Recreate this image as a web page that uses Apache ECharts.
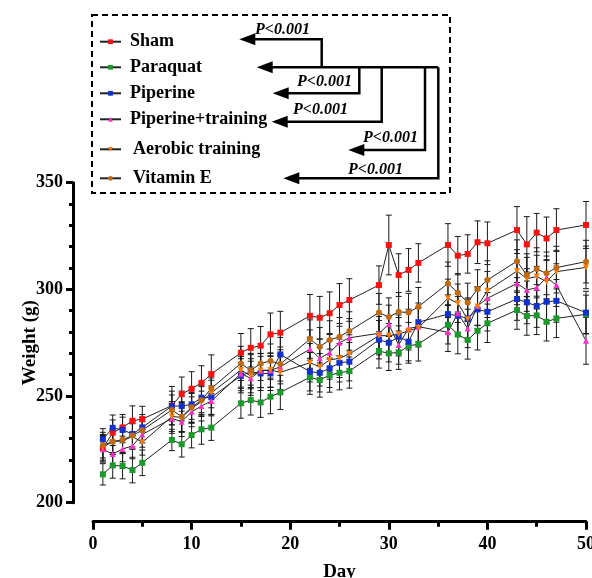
<!DOCTYPE html>
<html>
<head>
<meta charset="utf-8">
<script src="https://cdn.jsdelivr.net/npm/echarts@6/dist/echarts.min.js"></script>
<style>
html,body{margin:0;padding:0;background:#fff;overflow:hidden;}
#chart{width:592px;height:578px;}
</style>
</head>
<body>
<div id="chart"></div>
<script>
// ---- data ----
const days = [1,2,3,4,5,8,9,10,11,12,15,16,17,18,19,22,23,24,25,26,29,30,31,32,33,36,37,38,39,40,43,44,45,46,47,50];
const seriesNames = ['Sham','Paraquat','Piperine','Piperine+training','Aerobic training','Vitamin E'];
const sham = [225.5,232.8,235.3,238.4,239.2,245.5,250.9,253.4,256.2,260.3,270.3,272.6,273.6,278.9,279.7,287.6,286.7,288.8,292.7,295.0,302.0,320.8,306.7,309.1,312.4,320.8,315.8,316.6,322.1,321.6,327.8,321.1,326.6,323.9,327.8,330.2];
const paraquat = [213.3,217.5,217.2,215.3,218.7,229.4,227.4,231.7,234.4,235.2,246.6,248.1,247.0,249.7,251.7,258.8,257.5,259.8,260.9,261.7,271.1,270.0,270.5,273.4,274.4,283.4,278.8,276.3,280.6,284.1,290.3,287.5,287.8,284.8,286.4,288.3];
const piperine = [229.7,235.1,234.1,232.2,235.3,245.3,245.3,246.1,249.2,249.4,259.5,261.4,260.6,260.6,269.5,261.4,260.9,263.0,265.6,266.1,276.4,275.0,277.8,275.5,284.6,288.4,287.6,286.4,290.6,289.5,295.5,293.9,292.2,294.2,294.6,289.1];
const pipTraining = [225.0,222.8,225.2,226.6,232.0,239.5,238.0,242.6,245.3,247.7,260.5,258.3,261.9,262.0,263.7,272.0,267.7,270.3,275.0,277.3,279.4,283.6,273.9,281.7,282.5,279.9,288.8,281.7,292.2,295.8,302.8,299.7,300.8,305.6,302.0,275.9];
const aerobic = [226.0,228.6,229.0,231.0,228.3,240.4,240.0,244.2,247.4,251.5,262.2,259.5,262.0,262.2,261.1,265.6,263.7,266.9,267.7,269.7,278.3,278.3,279.0,280.6,282.0,295.8,293.5,286.0,292.0,299.4,308.6,305.0,306.0,303.6,308.3,310.3];
const vitaminE = [227.0,228.6,229.5,231.5,234.0,243.5,240.3,244.7,248.0,253.6,265.3,262.0,265.3,266.4,265.0,276.7,273.1,276.3,277.8,280.5,289.1,287.0,289.5,289.1,291.9,302.8,298.4,293.9,300.2,304.4,313.2,306.7,309.5,307.5,310.2,313.0];

const shamErr = [6,6,6,7,6,9,8,8,8,9,9,9,9,10,10,10,10,10,10,10,9,14,10,10,9,10,9,9,10,10,11,13,9,10,10,11];
const paraquatErr = [5,6,6,6,6,5,6,6,7,6,7,7,7,8,8,8,8,8,8,8,8,8,8,8,8,9,9,9,9,9,9,9,9,9,9,9];
const piperineErr = [5,6,6,6,6,7,7,7,7,8,8,8,8,8,8,9,9,9,9,9,9,9,9,9,9,9,9,9,9,9,10,10,10,10,10,10];
const pipTrainingErr = [6,6,6,6,6,7,7,7,7,7,8,8,8,8,8,9,9,9,9,9,9,9,9,9,9,9,9,9,9,9,10,10,10,10,10,11];
const aerobicErr = [6,6,6,6,6,7,7,7,7,7,8,8,8,8,8,9,9,9,9,9,9,9,9,9,9,9,9,10,9,9,10,10,10,10,10,10];
const vitaminEErr = [6,6,6,6,6,7,7,7,7,7,8,8,8,8,8,9,9,9,9,9,9,9,9,9,9,10,9,9,9,9,10,10,10,10,10,10];

const yTicks = [200,250,300,350];
const xTicks = [0,10,20,30,40,50];
const pLabel = 'P<0.001';

// ---- styles ----
const FONT = "'Liberation Serif','Times New Roman',serif";
const colors = ['#ff1010','#1a9a2a','#1030d0','#ff30c8','#ff7a00','#c06a10'];
const symbols = ['rect','rect','rect','triangle','triangle','circle'];
const rotates = [0,0,0,0,180,0];
const allVals = [sham, paraquat, piperine, pipTraining, aerobic, vitaminE];
const allErrs = [shamErr, paraquatErr, piperineErr, pipTrainingErr, aerobicErr, vitaminEErr];
const legendY = [41.7, 67.3, 93.3, 119.3, 149.3, 178.3];

const chart = echarts.init(document.getElementById('chart'), null, {renderer:'canvas', width:592, height:578});

const series = [];
allVals.forEach((vals, k) => {
  series.push({
    name: seriesNames[k] + '_err',
    type: 'custom',
    z: 2,
    silent: true,
    data: days.map((d,i) => [d, vals[i], allErrs[k][i]]),
    encode: {x:0, y:1},
    renderItem: function(params, api){
      const x = api.value(0), y = api.value(1), e = api.value(2);
      const t = api.coord([x, y + e]);
      const b = api.coord([x, y - e]);
      const w = 3;
      const st = {stroke:'#1a1a1a', lineWidth:1};
      return {type:'group', children:[
        {type:'line', shape:{x1:t[0],y1:t[1],x2:b[0],y2:b[1]}, style:st},
        {type:'line', shape:{x1:t[0]-w,y1:t[1],x2:t[0]+w,y2:t[1]}, style:st},
        {type:'line', shape:{x1:b[0]-w,y1:b[1],x2:b[0]+w,y2:b[1]}, style:st}
      ]};
    }
  });
});
allVals.forEach((vals, k) => {
  series.push({
    name: seriesNames[k],
    type: 'line',
    z: 3,
    data: days.map((d,i) => [d, vals[i]]),
    symbol: symbols[k],
    symbolSize: 6,
    symbolRotate: rotates[k],
    showAllSymbol: true,
    lineStyle: {color:'#222', width:1},
    itemStyle: {color: colors[k]},
    animation: false
  });
});

const legends = seriesNames.map((n, k) => ({
  data: [n],
  left: 99,
  top: legendY[k] - 9,
  orient: 'horizontal',
  itemWidth: 21,
  itemHeight: 6,
  itemGap: 0,
  padding: 0,
  textStyle: {fontFamily: FONT, fontWeight:'bold', fontSize:18, color:'#000', padding:[0,0,0,k >= 4 ? 7 : 4]},
  selectedMode: false
}));

function arrow(pts, tip, y){
  return [
    {type:'polyline', shape:{points:pts}, style:{stroke:'#000', lineWidth:2.5, fill:null}, z:10},
    {type:'polygon', shape:{points:[[tip,y],[tip+16,y-6],[tip+16,y+6]]}, style:{fill:'#000'}, z:10}
  ];
}
function ptext(x, y){
  return {type:'text', left:x, top:y-8, z:10,
    style:{text:pLabel, font:"italic bold 16px 'Liberation Serif','Times New Roman',serif", fill:'#000'}};
}

const graphic = [
  {type:'rect', shape:{x:92, y:15, width:358, height:178}, style:{stroke:'#000', lineWidth:2, fill:null, lineDash:[6,4]}, z:10},
  ...arrow([[255,39.3],[321.7,39.3],[321.7,67.3]], 239.3, 39.3),
  ...arrow([[272,67.3],[438.3,67.3]], 256.7, 67.3),
  ...arrow([[359.3,67.3],[359.3,93.3],[288,93.3]], 272.7, 93.3),
  ...arrow([[381.7,67.3],[381.7,121.7],[287,121.7]], 271.7, 121.7),
  ...arrow([[425,67.3],[425,150],[364,150]], 348.3, 150),
  ...arrow([[438.3,67.3],[438.3,178.3],[299,178.3]], 283.3, 178.3),
  ptext(255, 30), ptext(297, 82), ptext(293, 110), ptext(363, 138), ptext(348, 170)
];

const option = {
  backgroundColor: '#fff',
  animation: false,
  grid: {left:93, right:6, top:182.7, bottom:75.3, containLabel:false, outerBoundsMode:'none'},
  legend: legends,
  xAxis: {
    type:'value', min:0, max:50, interval:10, offset:19,
    name:'Day', nameLocation:'middle', nameGap:41, nameMoveOverlap:false,
    nameTextStyle:{fontFamily:FONT, fontWeight:'bold', fontSize:19, color:'#000'},
    axisLine:{show:true, onZero:false, lineStyle:{color:'#000', width:3}},
    axisTick:{show:true, length:8, lineStyle:{color:'#000', width:3}},
    minorTick:{show:true, splitNumber:2, length:5, lineStyle:{color:'#000', width:3}},
    splitLine:{show:false},
    axisLabel:{fontFamily:FONT, fontWeight:'bold', fontSize:18, color:'#000', margin:14,
      formatter: v => xTicks.includes(v) ? String(v) : ''}
  },
  yAxis: {
    type:'value', min:200, max:350, interval:50, offset:20,
    name:'Weight (g)', nameLocation:'middle', nameGap:33, nameRotate:90, nameMoveOverlap:false,
    nameTextStyle:{fontFamily:FONT, fontWeight:'bold', fontSize:19, color:'#000'},
    axisLine:{show:true, onZero:false, lineStyle:{color:'#000', width:3}},
    axisTick:{show:true, length:7, lineStyle:{color:'#000', width:3}},
    minorTick:{show:true, splitNumber:5, length:4, lineStyle:{color:'#000', width:3}},
    splitLine:{show:false},
    axisLabel:{fontFamily:FONT, fontWeight:'bold', fontSize:18, color:'#000', margin:10,
      formatter: v => yTicks.includes(v) ? String(v) : ''}
  },
  series: series,
  graphic: graphic
};
chart.setOption(option);
</script>
</body>
</html>
